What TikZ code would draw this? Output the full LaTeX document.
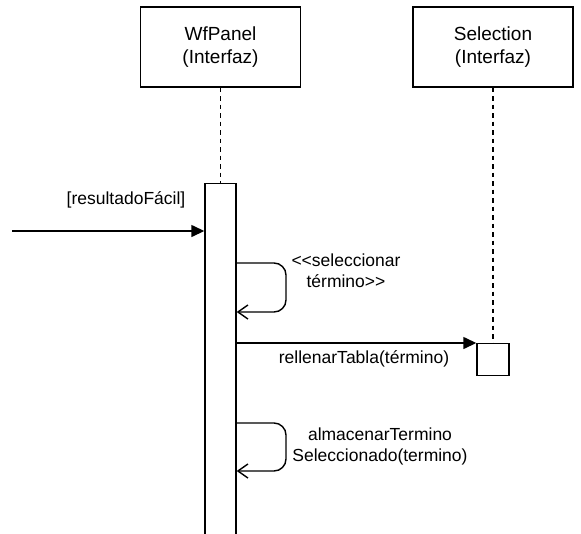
\documentclass[tikz,border=0pt]{standalone}
\usepackage{fontspec}
\setmainfont{Liberation Sans}
\usetikzlibrary{arrows.meta}
\begin{document}
\begin{tikzpicture}[x=1pt,y=-1pt,line width=1.4pt,
  head/.style={draw,fill=white,minimum width=160pt,minimum height=80pt,align=center,inner sep=0pt,font=\fontsize{19}{23}\selectfont},
  lbl/.style={align=center,inner sep=0pt,font=\fontsize{17.5}{21}\selectfont},
  life/.style={dash pattern=on 4.5pt off 4pt},
  msg/.style={-{Triangle[length=13pt,width=12pt]}},
  selfmsg/.style={-{Straight Barb[length=10pt,width=14pt]},rounded corners=12pt}]
\useasboundingbox (0,0) rectangle (581,533);
\node[head] (wf) at (220.5,47) {WfPanel\\(Interfaz)};
\node[head] (sel) at (493,47) {Selection\\(Interfaz)};
\node[draw,fill=white,minimum width=31pt,minimum height=380pt,anchor=north,inner sep=0pt] (act) at (220.5,183) {};
\node[draw,fill=white,minimum width=32pt,minimum height=32pt,anchor=north,inner sep=0pt] (box) at (493,343) {};
\draw[life] (wf.south) -- (act.north);
\draw[life] (sel.south) -- (box.north);
% incoming message
\coordinate (start) at (12,231);
\draw[msg] (start) -- (start -| act.west);
\node[lbl] (l0) at (126,200) {[resultadoFácil]};
% self message 1
\coordinate (s1a) at (0,263);
\coordinate (s1b) at (286,312);
\draw[selfmsg] (act.east |- s1a) -- (s1b |- s1a) -- (s1b) -- (act.east |- s1b);
\node[lbl] (l1) at (346,271) {<\kern0pt<seleccionar\\término>\kern0pt>};
% call to Selection
\draw[msg] (act.east |- box.north west) -- (box.north west);
\node[lbl] (l2) at (364,359) {rellenarTabla(término)};
% self message 2
\coordinate (s2a) at (0,423);
\coordinate (s2b) at (286,471);
\draw[selfmsg] (act.east |- s2a) -- (s2b |- s2a) -- (s2b) -- (act.east |- s2b);
\node[lbl] (l3) at (380,446) {almacenarTermino\\Seleccionado(termino)};
\end{tikzpicture}
\end{document}
